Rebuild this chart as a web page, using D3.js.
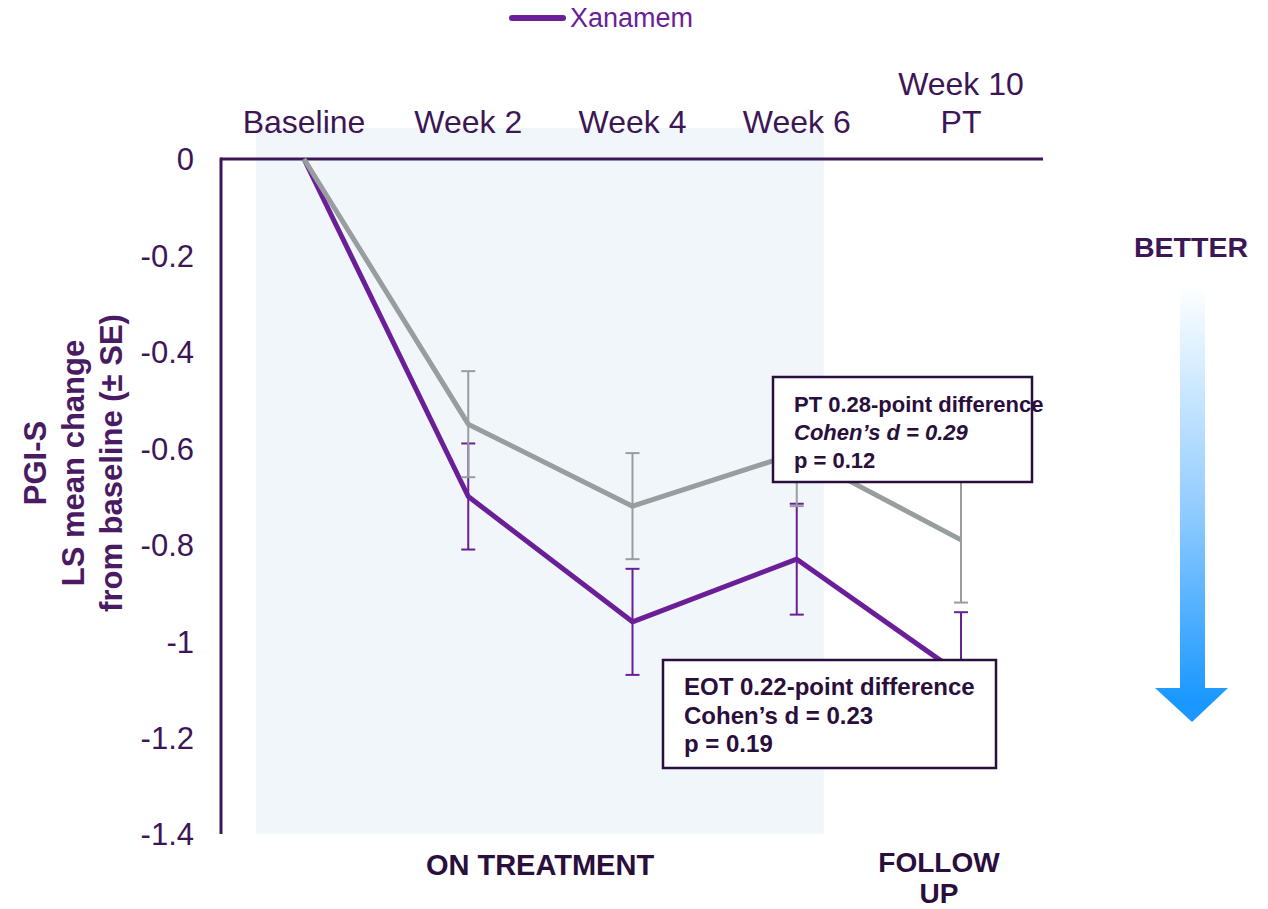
<!DOCTYPE html>
<html>
<head>
<meta charset="utf-8">
<script src="https://cdn.jsdelivr.net/npm/d3@7"></script>
<style>
  html, body { margin: 0; padding: 0; background: #fff; }
  svg { display: block; font-family: "Liberation Sans", Arial, sans-serif; }
</style>
</head>
<body>
<svg id="chart" width="1268" height="909"></svg>
<script>
// Visits along the x axis
const categories = ["Baseline", "Week 2", "Week 4", "Week 6", "Week 10"];
const categoryLabels = [["Baseline"], ["Week 2"], ["Week 4"], ["Week 6"], ["Week 10", "PT"]];

// LS mean change from baseline and standard errors
const xanamemMean = [0, -0.70, -0.96, -0.83, -1.07];
const xanamemSE   = [0, 0.11, 0.11, 0.115, 0.13];
const placeboMean = [0, -0.55, -0.72, -0.61, -0.79];
const placeboSE   = [0, 0.11, 0.11, 0.11, 0.13];

// Y axis tick values
const yTicks = [0, -0.2, -0.4, -0.6, -0.8, -1, -1.2, -1.4];

// Annotation boxes
const ptLines  = ["PT 0.28-point difference", "Cohen\u2019s d = 0.29", "p = 0.12"];
const eotLines = ["EOT 0.22-point difference", "Cohen\u2019s d = 0.23", "p = 0.19"];

const svg = d3.select("#chart");
const dark = "#3d1656";
const purple = "#6a1f99";
const grey = "#989da0";

const x = d3.scalePoint().domain(categories).range([304, 961]);
const y = d3.scaleLinear().domain([0, -1.4]).range([159, 834]);

// On-treatment shading
svg.append("rect")
  .attr("x", x("Baseline") - 48).attr("y", 128)
  .attr("width", x("Week 6") + 27 - (x("Baseline") - 48))
  .attr("height", y(-1.4) - 128)
  .attr("fill", "#f1f6fb");

// Y axis tick labels
const yAxis = d3.axisLeft(y).tickValues(yTicks).tickSize(0).tickPadding(0)
  .tickFormat(d => d3.format("")(d).replace("\u2212", "-"));
const yg = svg.append("g").attr("transform", "translate(194,0)").call(yAxis);
yg.select(".domain").remove();
yg.selectAll("text")
  .attr("fill", dark).attr("font-size", 31).attr("font-family", "Liberation Sans, Arial, sans-serif")
  .attr("dy", "0.35em");

// Axis lines
svg.append("line").attr("x1", 221).attr("x2", 221).attr("y1", y(0) - 1.5).attr("y2", y(-1.4))
  .attr("stroke", dark).attr("stroke-width", 3);
svg.append("line").attr("x1", 221).attr("x2", 1043).attr("y1", y(0)).attr("y2", y(0))
  .attr("stroke", dark).attr("stroke-width", 3);

// Category labels above the zero line
const catG = svg.append("g");
categories.forEach((c, i) => {
  const lines = categoryLabels[i];
  const t = catG.append("text")
    .attr("x", x(c)).attr("text-anchor", "middle")
    .attr("fill", dark).attr("font-size", 32);
  lines.forEach((l, j) => {
    t.append("tspan").attr("x", x(c))
      .attr("y", 133 - (lines.length - 1 - j) * 38)
      .text(l);
  });
});

// Series drawing
function drawSeries(mean, se, color, width, barWidth) {
  const pts = categories.map((c, i) => ({ c, m: mean[i], s: se[i] }));
  const g = svg.append("g");
  const eb = g.selectAll("g.eb").data(pts.filter(p => p.s > 0)).join("g");
  eb.append("line")
    .attr("x1", p => x(p.c)).attr("x2", p => x(p.c))
    .attr("y1", p => y(p.m + p.s)).attr("y2", p => y(p.m - p.s))
    .attr("stroke", color).attr("stroke-width", barWidth);
  [1, -1].forEach(sgn => {
    eb.append("line")
      .attr("x1", p => x(p.c) - 7).attr("x2", p => x(p.c) + 7)
      .attr("y1", p => y(p.m + sgn * p.s)).attr("y2", p => y(p.m + sgn * p.s))
      .attr("stroke", color).attr("stroke-width", barWidth);
  });
  g.append("path").datum(pts)
    .attr("d", d3.line().x(p => x(p.c)).y(p => y(p.m)))
    .attr("fill", "none").attr("stroke", color).attr("stroke-width", width)
    .attr("stroke-linejoin", "round");
}
drawSeries(xanamemMean, xanamemSE, purple, 5, 2);
drawSeries(placeboMean, placeboSE, grey, 5, 2);

// Annotation boxes
function box(x0, y0, w, h, lines, size, lineGap, italicLine) {
  svg.append("rect").attr("x", x0).attr("y", y0).attr("width", w).attr("height", h)
    .attr("fill", "#fff").attr("stroke", "#2a0e3c").attr("stroke-width", 2.5);
  lines.forEach((l, i) => {
    svg.append("text").attr("x", x0 + 21).attr("y", y0 + 35 + i * lineGap)
      .attr("font-size", size).attr("font-weight", "bold")
      .attr("font-style", i === italicLine ? "italic" : "normal")
      .attr("fill", "#2a0e3c").text(l);
  });
}
box(773, 377, 259, 105, ptLines, 22, 28, 1);
box(663, 660, 333, 108, eotLines, 24, 28.5, -1);

// Y axis title
const yt = svg.append("text").attr("transform", "translate(0,463) rotate(-90)")
  .attr("text-anchor", "middle").attr("font-weight", "bold").attr("font-size", 31)
  .attr("fill", "#4a1a63");
["PGI-S", "LS mean change", "from baseline (\u00b1 SE)"].forEach((l, i) => {
  yt.append("tspan").attr("x", 0).attr("y", 46 + i * 38).text(l);
});

// Period labels
svg.append("text").attr("x", 540).attr("y", 875).attr("text-anchor", "middle")
  .attr("font-weight", "bold").attr("font-size", 29).attr("fill", "#2a0e3c").text("ON TREATMENT");
const fu = svg.append("text").attr("text-anchor", "middle")
  .attr("font-weight", "bold").attr("font-size", 28).attr("fill", "#2a0e3c");
fu.append("tspan").attr("x", 939).attr("y", 872).text("FOLLOW");
fu.append("tspan").attr("x", 939).attr("y", 903).text("UP");

// "Better" arrow
const defs = svg.append("defs");
const grad = defs.append("linearGradient").attr("id", "betterGrad")
  .attr("gradientUnits", "userSpaceOnUse")
  .attr("x1", 0).attr("y1", 285).attr("x2", 0).attr("y2", 700);
grad.append("stop").attr("offset", 0).attr("stop-color", "#ffffff");
grad.append("stop").attr("offset", 0.55).attr("stop-color", "#8fcbff");
grad.append("stop").attr("offset", 1).attr("stop-color", "#1a98ff");
svg.append("path")
  .attr("d", "M1180,285 L1205,285 L1205,688 L1228,688 L1192,722 L1155,688 L1180,688 Z")
  .attr("fill", "url(#betterGrad)");
svg.append("text").attr("x", 1191).attr("y", 257).attr("text-anchor", "middle")
  .attr("font-weight", "bold").attr("font-size", 28.5).attr("fill", "#3d1656").text("BETTER");

// Legend
svg.append("line").attr("x1", 512).attr("x2", 563).attr("y1", 18).attr("y2", 18)
  .attr("stroke", purple).attr("stroke-width", 6).attr("stroke-linecap", "round");
svg.append("text").attr("x", 570).attr("y", 27).attr("font-size", 27)
  .attr("fill", purple).text("Xanamem");
</script>
</body>
</html>
